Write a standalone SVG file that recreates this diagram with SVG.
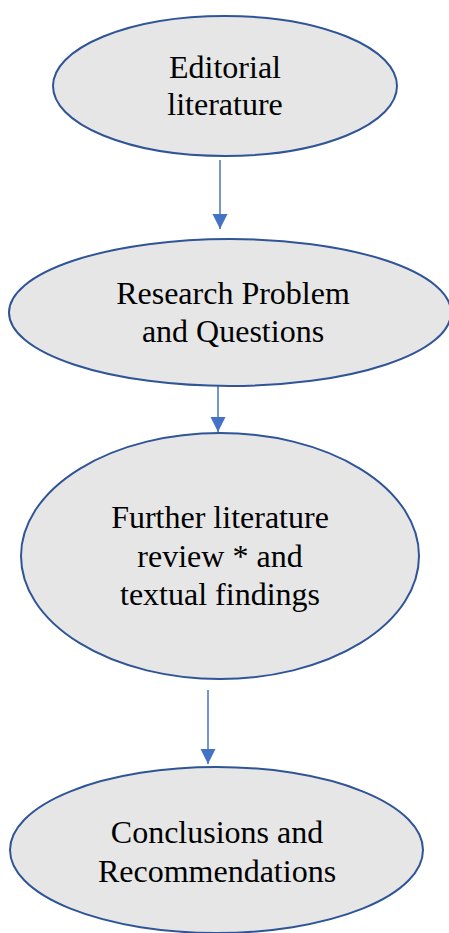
<svg xmlns="http://www.w3.org/2000/svg" width="449" height="933" viewBox="0 0 449 933">
<style>
.node ellipse{fill:#E6E6E6;stroke:#2F5597;stroke-width:2}
.node text{font-family:"Liberation Serif","Times New Roman",serif;font-size:32px;fill:#000;text-anchor:middle}
.conn line{stroke:#4472C4;stroke-width:1.5}
</style>
<defs>
<marker id="ah" viewBox="0 0 10 10" refX="10" refY="5" markerUnits="userSpaceOnUse" markerWidth="15" markerHeight="16" orient="auto">
<path d="M0,0 L10,5 L0,10 z" fill="#4472C4"/>
</marker>
</defs>
<rect width="449" height="933" fill="#fff"/>
<g id="connectors" class="conn">
<line x1="220" y1="160" x2="220" y2="229" marker-end="url(#ah)"/>
<line x1="218" y1="384" x2="218" y2="432" marker-end="url(#ah)"/>
<line x1="208" y1="690" x2="208" y2="764" marker-end="url(#ah)"/>
</g>
<g id="n1" class="node">
<ellipse cx="225" cy="86" rx="172" ry="70"/>
<text x="225" y="78">Editorial</text>
<text x="225" y="115">literature</text>
</g>
<g id="n2" class="node">
<ellipse cx="230" cy="312.5" rx="221" ry="73.5"/>
<text x="233" y="304">Research Problem</text>
<text x="233" y="342">and Questions</text>
</g>
<g id="n3" class="node">
<ellipse cx="220" cy="556" rx="199" ry="123"/>
<text x="220" y="528">Further literature</text>
<text x="220" y="567">review * and</text>
<text x="220" y="605">textual findings</text>
</g>
<g id="n4" class="node">
<ellipse cx="216.5" cy="850" rx="206.5" ry="83"/>
<text x="217" y="843">Conclusions and</text>
<text x="217" y="882">Recommendations</text>
</g>
</svg>
